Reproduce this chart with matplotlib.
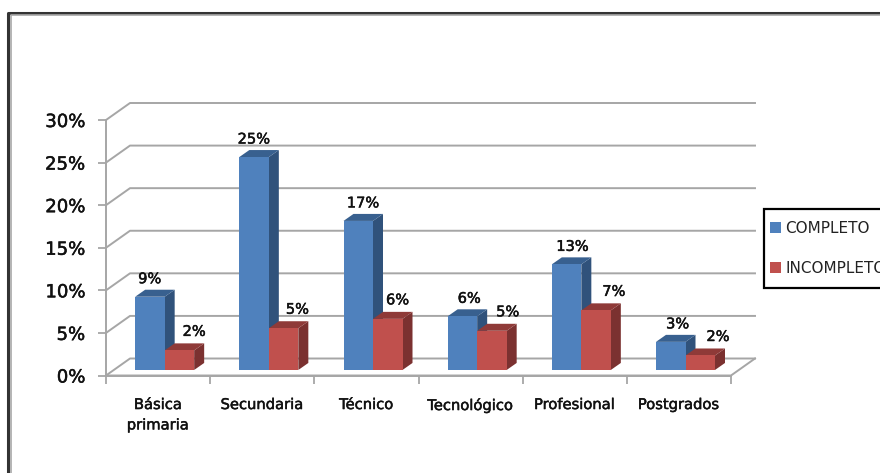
import matplotlib.pyplot as plt
import matplotlib.patheffects as pe
from matplotlib.lines import Line2D
from matplotlib.patches import Patch, Polygon, Rectangle

categories = ["Básica\nprimaria", "Secundaria", "Técnico", "Tecnológico", "Profesional", "Postgrados"]
completo = [8.6, 25.0, 17.5, 6.3, 12.4, 3.3]
incompleto = [2.3, 4.9, 6.0, 4.6, 7.0, 1.7]
completo_labels = ["9%", "25%", "17%", "6%", "13%", "3%"]
incompleto_labels = ["2%", "5%", "6%", "5%", "7%", "2%"]
y_ticks = [0, 5, 10, 15, 20, 25, 30]

W, H = 880, 473
fig = plt.figure(figsize=(W / 100, H / 100), dpi=100)
ax = fig.add_axes([106 / W, 1 - 375.5 / H, 625 / W, 255.5 / H])
ax.set_xlim(0, 6)
ax.set_ylim(0, 30)

# pixel sizes in data units
px = 6 / 625
py = 30 / 255.5
back_dx, back_dy = 24 * px, 17 * py
GRID = "#a6a6a6"
TEXT = "#111111"
# thin outline makes the text look as heavy as the blurry original
heavy = [pe.withStroke(linewidth=0.35, foreground=TEXT)]

# walls of the 3D box
for v in y_ticks:
    ax.plot([0, back_dx, 6 + back_dx], [v, v + back_dy, v + back_dy],
            color=GRID, lw=1.4, clip_on=False, zorder=1)
ax.plot([0, 6, 6 + back_dx], [0, 0, back_dy], color=GRID, lw=1.4, clip_on=False, zorder=1)


def draw_bar(x, value, front, side, top):
    w, dx, dy = 29.5 * px, 10 * px, 7 * py
    y0 = 0.65
    y1 = y0 + value
    ax.add_patch(Polygon([(x + w, y0), (x + w + dx, y0 + dy), (x + w + dx, y1 + dy), (x + w, y1)],
                         fc=side, ec="none", zorder=3))
    ax.add_patch(Polygon([(x, y1), (x + dx, y1 + dy), (x + w + dx, y1 + dy), (x + w, y1)],
                         fc=top, ec="none", zorder=3))
    ax.add_patch(Polygon([(x, y0), (x + w, y0), (x + w, y1), (x, y1)], fc=front, ec="none", zorder=4))


BLUE = ("#4f81bd", "#30527b", "#38608f")
RED = ("#c0504d", "#7b3130", "#8f3a38")
# data labels were nudged by hand in the original chart
nudge_blue = [0, 0, 5, 7, 6, 7]
nudge_red = [15, 14, 10, 16, 18, 18]

for i in range(len(categories)):
    x0 = i + 0.28
    draw_bar(x0, completo[i], *BLUE)
    draw_bar(x0 + 29.5 * px, incompleto[i], *RED)
    ax.annotate(completo_labels[i], (x0 + 14.5 * px, completo[i] + 0.65), xytext=(nudge_blue[i], 18),
                textcoords="offset pixels", ha="center", va="center", fontsize=10.5, color=TEXT,
                zorder=6, path_effects=heavy)
    ax.annotate(incompleto_labels[i], (x0 + 44 * px, incompleto[i] + 0.65), xytext=(nudge_red[i], 19),
                textcoords="offset pixels", ha="center", va="center", fontsize=10.5, color=TEXT,
                zorder=6, path_effects=heavy)

# axes
for s in ["top", "right"]:
    ax.spines[s].set_visible(False)
for s in ["left", "bottom"]:
    ax.spines[s].set_color(GRID)
    ax.spines[s].set_linewidth(1.4)
ax.patch.set_visible(False)
ax.set_yticks(y_ticks)
ax.set_yticklabels([f"{v}%" for v in y_ticks], fontsize=13, color=TEXT, path_effects=heavy)
ax.set_xticks(range(7))
ax.set_xticklabels([])
ax.set_xticks([i + 0.5 for i in range(6)], minor=True)
ax.set_xticklabels(categories, minor=True, fontsize=10.6, color=TEXT, linespacing=1.45, path_effects=heavy)
ax.tick_params(axis="y", length=6, width=1.3, color=GRID, pad=9)
ax.tick_params(axis="x", which="major", length=6, width=1.3, color=GRID)
ax.tick_params(axis="x", which="minor", length=0, pad=15.5)

# legend runs off the right edge like the reference
fig.add_artist(Rectangle((764 / W, 1 - 288 / H), 130 / W, 79 / H, transform=fig.transFigure,
                         fc="white", ec="black", lw=1.6, zorder=5))
handles = [Patch(fc=BLUE[0], ec="none", label="COMPLETO"), Patch(fc=RED[0], ec="none", label="INCOMPLETO")]
fig.legend(handles=handles, loc="center left", bbox_to_anchor=(764 / W, 1 - 248.5 / H),
           bbox_transform=fig.transFigure, fontsize=11, frameon=False, borderaxespad=0, borderpad=0.4,
           labelspacing=1.65, handlelength=0.72, handleheight=0.72, handletextpad=0.26,
           labelcolor="#222222").set_zorder(6)

# double frame round the picture
for coords, color, lw in [(((8, 8, W), (H, 13, 13)), "#333333", 2.2),
                          (((10.5, 10.5, W), (H, 15.5, 15.5)), "#a8a8a8", 1.2)]:
    xs, ys = coords
    fig.add_artist(Line2D([v / W for v in xs], [1 - v / H for v in ys], color=color, lw=lw))

fig.savefig("out.png", dpi=100)
